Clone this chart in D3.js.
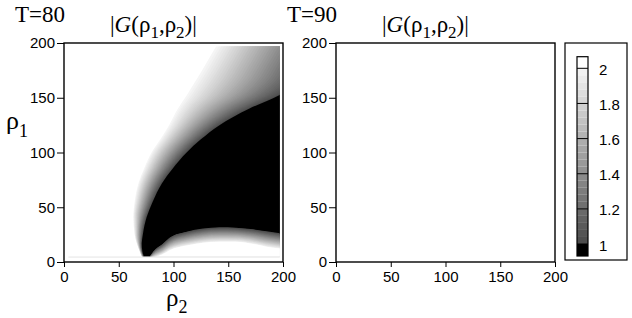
<!DOCTYPE html>
<html>
<head>
<meta charset="utf-8">
<script src="https://cdn.jsdelivr.net/npm/d3@7"></script>
<style>
  body { margin: 0; background: #fff; }
  svg { display: block; }
  .tick text { font-family: "Liberation Sans", Arial, sans-serif; font-size: 15px; fill: #000; }
  .tick line, .domain { stroke: #000; stroke-width: 1; }
  .serif { font-family: "Liberation Serif", "Times New Roman", serif; fill: #000; }
</style>
</head>
<body>
<svg id="chart" width="632" height="318"></svg>
<script>
// panel titles
var panelTimes = ["T=80", "T=90"];
var axisTicks = [0, 50, 100, 150, 200];
var barTicks = [1, 1.2, 1.4, 1.6, 1.8, 2];

// T=80 : upper grey band, read as rho2 positions for each rho1 row
var rho1Up = [5, 10, 17, 25, 41, 55, 72, 85, 100, 112, 125, 140, 152, 165, 180, 197];
var blackEdgeUp = [73, 71.5, 71, 72, 75.5, 81, 89.5, 99, 112, 125, 142, 169, 196, 214, 224, 234];   // |G| = 1
var whiteEdgeUp = [71, 69, 66.5, 64.5, 63.3, 64.5, 68, 73, 80, 88, 96, 104, 112, 120, 129, 139];    // |G| = 2

// T=80 : lower grey band, read as rho1 positions for each rho2 column
var rho2Low = [78.5, 82, 90, 97, 112, 127, 142, 157, 173, 185, 199];
var blackEdgeLow = [5, 10, 16.5, 22.5, 27.7, 30.5, 31.7, 31.3, 29.8, 28, 26];   // |G| = 1
var whiteEdgeLow = [3, 4, 7, 11, 15, 17.5, 18.5, 18.5, 16.5, 14, 12];          // |G| = 2

var svg = d3.select("#chart");
var gray = d3.scaleLinear().domain([1, 2]).range(["#4a4a4a", "#f5f5f5"]);
var nLevels = 40;

function drawPanel(left, tLabel, withMap, idx) {
    var x = d3.scaleLinear().domain([0, 200]).range([left, left + 219]);
    var y = d3.scaleLinear().domain([0, 200]).range([262, 43]);
    var g = svg.append("g");

    if (withMap) {
        var clipId = "clip" + idx;
        svg.append("clipPath").attr("id", clipId)
            .append("rect")
            .attr("x", x(4)).attr("y", y(197))
            .attr("width", x(197) - x(4)).attr("height", y(5) - y(197));
        var map = g.append("g").attr("clip-path", "url(#" + clipId + ")");

        var up = rho1Up.map(function(r, i) { return {r1: r, b: blackEdgeUp[i], w: whiteEdgeUp[i]}; });
        var low = rho2Low.map(function(r, i) { return {r2: r, b: blackEdgeLow[i], w: whiteEdgeLow[i]}; });

        // upper band: from white edge towards the black edge
        d3.range(nLevels + 1).forEach(function(k) {
            var t = k / nLevels;
            var area = d3.area()
                .curve(d3.curveMonotoneY)
                .y(function(d) { return y(d.r1); })
                .x0(function(d) { return x(d.w + t * (d.b - d.w)); })
                .x1(x(260));
            map.append("path").datum(up).attr("d", area).attr("fill", gray(2 - t));
        });
        // black region
        map.append("path").datum(up)
            .attr("d", d3.area().curve(d3.curveMonotoneY)
                .y(function(d) { return y(d.r1); })
                .x0(function(d) { return x(d.b); })
                .x1(x(260)))
            .attr("fill", "#000");
        // lower band: from the black edge down to the white edge
        d3.range(nLevels + 1).forEach(function(k) {
            var s = k / nLevels;
            var area = d3.area()
                .curve(d3.curveMonotoneX)
                .x(function(d) { return x(d.r2); })
                .y0(y(-5))
                .y1(function(d) { return y(d.b + s * (d.w - d.b)); });
            map.append("path").datum(low).attr("d", area).attr("fill", gray(1 + s));
        });
        map.append("path").datum(low)
            .attr("d", d3.area().curve(d3.curveMonotoneX)
                .x(function(d) { return x(d.r2); })
                .y0(y(-5))
                .y1(function(d) { return y(d.w); }))
            .attr("fill", "#fff");

        g.append("line")
            .attr("x1", x(4)).attr("x2", x(197))
            .attr("y1", y(4.5)).attr("y2", y(4.5))
            .attr("stroke", "#e4e4e4").attr("stroke-width", 1);
    }

    g.append("g").attr("transform", "translate(0,262)")
        .call(d3.axisBottom(x).tickValues(axisTicks).tickSize(5).tickPadding(4).tickSizeOuter(0))
        .call(function(a) { a.select(".domain").remove(); });
    g.append("g").attr("transform", "translate(" + left + ",0)")
        .call(d3.axisLeft(y).tickValues(axisTicks).tickSize(7).tickPadding(2).tickSizeOuter(0))
        .call(function(a) { a.select(".domain").remove(); });

    g.append("rect")
        .attr("x", x(0)).attr("y", y(200))
        .attr("width", x(200) - x(0)).attr("height", y(0) - y(200))
        .attr("fill", "none").attr("stroke", "#000").attr("stroke-width", 1.4);

    g.append("text").attr("class", "serif")
        .attr("x", left - 49).attr("y", 21.5)
        .style("font-size", "23px")
        .text(tLabel);

    var title = g.append("text").attr("class", "serif")
        .attr("x", left + 46).attr("y", 31.5)
        .style("font-size", "23px");
    title.append("tspan").text("|");
    title.append("tspan").style("font-style", "italic").text("G");
    title.append("tspan").text("(ρ");
    title.append("tspan").attr("dy", 6).style("font-size", "17px").text("1");
    title.append("tspan").attr("dy", -6).text(",ρ");
    title.append("tspan").attr("dy", 6).style("font-size", "17px").text("2");
    title.append("tspan").attr("dy", -6).text(")|");

    return g;
}

drawPanel(64, panelTimes[0], true, 0);
drawPanel(336, panelTimes[1], false, 1);

// axis titles on the left panel
var yl = svg.append("text").attr("class", "serif").attr("x", 6).attr("y", 129).style("font-size", "26px");
yl.append("tspan").text("ρ");
yl.append("tspan").attr("dy", 8).style("font-size", "18px").text("1");
var xl = svg.append("text").attr("class", "serif").attr("x", 166).attr("y", 306).style("font-size", "25px");
xl.append("tspan").text("ρ");
xl.append("tspan").attr("dy", 7).style("font-size", "18px").text("2");

// colour bar
var cb = svg.append("g");
var cy = d3.scaleLinear().domain([1, 2]).range([244, 68.3]);
cb.append("rect").attr("x", 565).attr("y", 43).attr("width", 62).attr("height", 217)
    .attr("fill", "none").attr("stroke", "#000").attr("stroke-width", 1.2);
var steps = d3.range(0, 25).map(function(i) { return 1 + i * 0.04; });
cb.selectAll("rect.stripe").data(steps).enter().append("rect")
    .attr("class", "stripe")
    .attr("x", 577).attr("width", 11)
    .attr("y", function(d) { return cy(d + 0.04); })
    .attr("height", function(d) { return cy(d) - cy(d + 0.04); })
    .attr("fill", function(d) { return gray(d + 0.02); });
cb.append("rect").attr("x", 577).attr("width", 11).attr("y", cy(2) - 11.6).attr("height", 11.6).attr("fill", "#fff");
cb.append("rect").attr("x", 577).attr("width", 11).attr("y", cy(1)).attr("height", 12).attr("fill", "#000");
cb.selectAll("line.major").data(barTicks).enter().append("line")
    .attr("class", "major")
    .attr("x1", 577).attr("x2", 588)
    .attr("y1", function(d) { return cy(d); }).attr("y2", function(d) { return cy(d); })
    .attr("stroke", "#000").attr("stroke-width", 1);
cb.append("rect").attr("x", 577).attr("y", cy(2) - 11.6).attr("width", 11).attr("height", cy(1) + 12 - cy(2) + 11.6)
    .attr("fill", "none").attr("stroke", "#000").attr("stroke-width", 1.2);
cb.selectAll("text.lab").data(barTicks).enter().append("text")
    .attr("class", "lab")
    .attr("x", 599)
    .attr("y", function(d) { return cy(d) + 1; })
    .attr("dominant-baseline", "central")
    .style("font-family", "'Liberation Sans', Arial, sans-serif")
    .style("font-size", "15px")
    .text(function(d) { return d; });
</script>
</body>
</html>
